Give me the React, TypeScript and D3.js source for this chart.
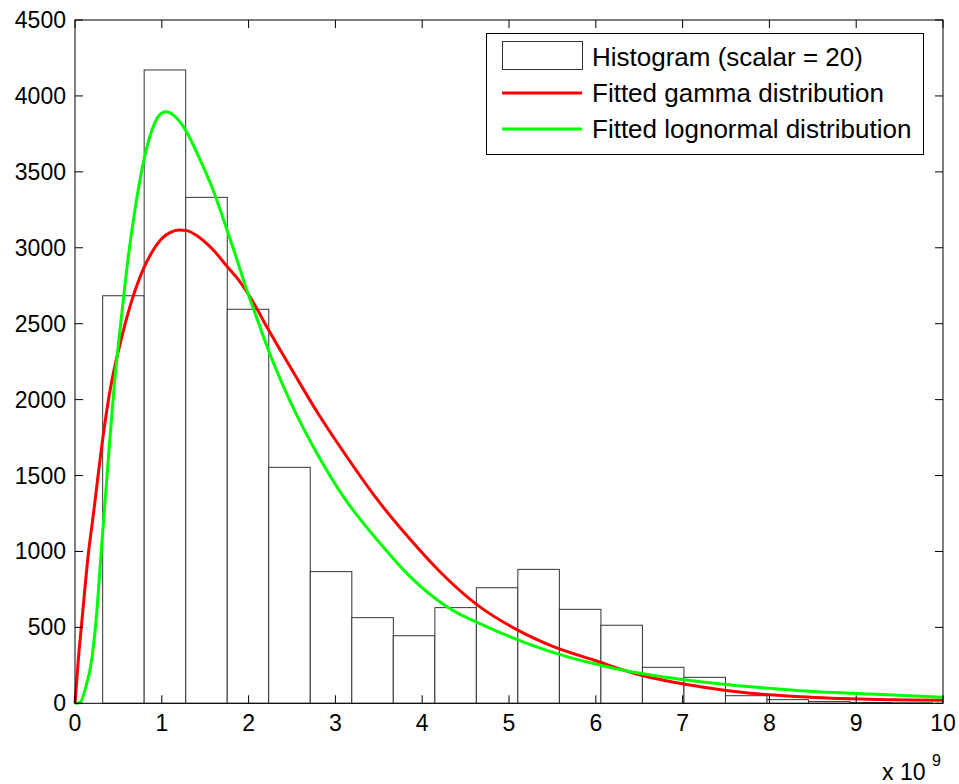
import React from "react";
import * as d3 from "d3";

// Histogram bin centers (x 10^9) and counts (scaled)
const binCenters = [0.558, 1.036, 1.515, 1.993, 2.471, 2.950, 3.428, 3.906, 4.385, 4.863,
  5.341, 5.820, 6.298, 6.776, 7.255, 7.733, 8.211, 8.690, 9.168, 9.646];
const binCounts = [2684, 4171, 3332, 2595, 1554, 867, 564, 445, 630, 761,
  882, 619, 514, 237, 171, 50, 24, 11, 5, 3];
const binWidth = 0.4783;

// Fitted gamma curve (x 10^9, value)
const gammaX = [0, 0.038, 0.089, 0.153, 0.211, 0.268, 0.319, 0.372, 0.423, 0.538, 0.653, 0.787, 0.902,
  1.018, 1.095, 1.199, 1.287, 1.421, 1.594, 1.748, 1.882, 1.979, 2.094, 2.209, 2.305, 2.516, 2.804,
  3.112, 3.457, 3.861, 4.207, 4.63, 5.09, 5.512, 5.973, 6.511, 7.203, 7.779, 8.356, 9.162, 10];
const gammaY = [0, 285, 600, 980, 1240, 1510, 1740, 1950, 2120, 2410, 2650, 2860, 2985,
  3070, 3100, 3117, 3113, 3073, 2985, 2880, 2790, 2710, 2600, 2480, 2385, 2180, 1905,
  1640, 1361, 1080, 865, 650, 485, 373, 285, 186, 109, 66, 43, 26, 20];

// Fitted lognormal curve (x 10^9, value)
const lognX = [0, 0.058, 0.115, 0.192, 0.25, 0.296, 0.326, 0.395, 0.453, 0.538, 0.614, 0.691, 0.787,
  0.884, 0.96, 1.049, 1.14, 1.258, 1.441, 1.594, 1.709, 1.844, 1.979, 2.074, 2.228, 2.478, 2.766,
  3.092, 3.515, 3.861, 4.284, 4.745, 5.206, 5.667, 6.128, 6.511, 7.203, 7.779, 8.356, 9.162, 10];
const lognY = [0, 5, 88, 285, 593, 950, 1180, 1690, 2100, 2560, 2940, 3250, 3560,
  3770, 3865, 3895, 3870, 3790, 3580, 3375, 3190, 2960, 2722, 2570, 2327, 1990, 1668,
  1361, 1054, 834, 636, 504, 395, 307, 241, 198, 142, 109, 83, 61, 40];

const xTicks = [0, 1, 2, 3, 4, 5, 6, 7, 8, 9, 10];
const yTicks = [0, 500, 1000, 1500, 2000, 2500, 3000, 3500, 4000, 4500];
const legendLabels = ["Histogram (scalar = 20)", "Fitted gamma distribution", "Fitted lognormal distribution"];

const W = 959, H = 784;
const left = 75, right = 943, top = 20, bottom = 703.3;
const FONT = "Liberation Sans, Arial, Helvetica, sans-serif";

export default function App() {
  const x = d3.scaleLinear().domain([0, 10]).range([left, right]);
  const y = d3.scaleLinear().domain([0, 4500]).range([bottom, top]);
  const line = d3.line<[number, number]>().x(d => x(d[0])).y(d => y(d[1])).curve(d3.curveMonotoneX);
  const gammaPts: [number, number][] = gammaX.map((v, i) => [v, gammaY[i]]);
  const lognPts: [number, number][] = lognX.map((v, i) => [v, lognY[i]]);
  const tl = 8;
  const legY = [57, 93, 129];
  return (
    <svg width={W} height={H} style={{ position: "absolute", left: 0, top: 0, background: "#fff" }}>
      <rect x={0} y={0} width={W} height={H} fill="#fff" />
      {binCenters.map((c, i) => (
        <rect key={i} x={x(c - binWidth / 2)} y={y(binCounts[i])}
          width={x(c + binWidth / 2) - x(c - binWidth / 2)} height={y(0) - y(binCounts[i])}
          fill="#fff" stroke="#333" strokeWidth={1} />
      ))}
      <path d={line(gammaPts) || ""} fill="none" stroke="#ff0000" strokeWidth={3} />
      <path d={line(lognPts) || ""} fill="none" stroke="#00ff00" strokeWidth={3} />
      {/* frame */}
      <rect x={left} y={top} width={right - left} height={bottom - top} fill="none" stroke="#000" strokeWidth={1} />
      {xTicks.map(t => (
        <g key={"x" + t}>
          <line x1={x(t)} x2={x(t)} y1={bottom} y2={bottom - tl} stroke="#000" />
          <line x1={x(t)} x2={x(t)} y1={top} y2={top + tl} stroke="#000" />
          <text x={x(t)} y={731} textAnchor="middle" fontFamily={FONT} fontSize={23} fill="#000">{t}</text>
        </g>
      ))}
      {yTicks.map(t => (
        <g key={"y" + t}>
          <line x1={left} x2={left + tl} y1={y(t)} y2={y(t)} stroke="#000" />
          <line x1={right} x2={right - tl} y1={y(t)} y2={y(t)} stroke="#000" />
          <text x={66} y={y(t) + 8} textAnchor="end" fontFamily={FONT} fontSize={23} fill="#000">{t}</text>
        </g>
      ))}
      <text x={882} y={780} fontFamily={FONT} fontSize={23} fill="#000">x 10</text>
      <text x={932} y={766} fontFamily={FONT} fontSize={16} fill="#000">9</text>
      {/* legend */}
      <rect x={486.5} y={33.5} width={437} height={121} fill="#fff" stroke="#000" strokeWidth={1} />
      <rect x={502.5} y={41.5} width={80} height={28} fill="#fff" stroke="#333" strokeWidth={1} />
      <line x1={502} x2={582} y1={legY[1]} y2={legY[1]} stroke="#ff0000" strokeWidth={3} />
      <line x1={502} x2={582} y1={legY[2]} y2={legY[2]} stroke="#00ff00" strokeWidth={3} />
      {legendLabels.map((l, i) => (
        <text key={l} x={592} y={legY[i] + 9} fontFamily={FONT} fontSize={26} fill="#000">{l}</text>
      ))}
    </svg>
  );
}
